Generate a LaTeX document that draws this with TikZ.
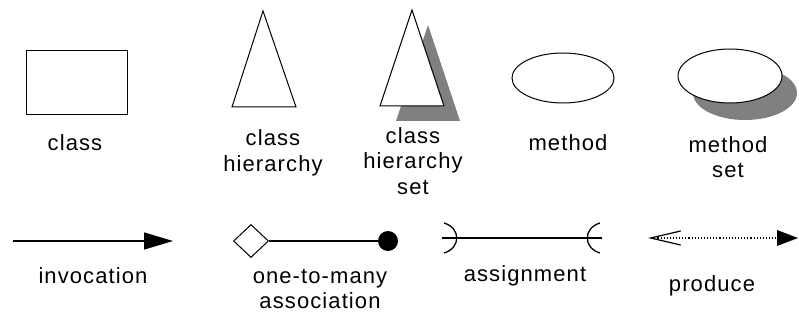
\documentclass[tikz,border=0pt]{standalone}
\usepackage{fontspec}
\setmainfont[LetterSpace=5]{Liberation Sans}
\usepackage{tikz}
\usetikzlibrary{arrows.meta,shapes.geometric}
\definecolor{ink}{HTML}{000000}
\definecolor{shade}{HTML}{808080}
\tikzset{
  lbl/.style={font=\fontsize{22}{25.5}\selectfont, align=center, inner sep=0pt},
  outline/.style={draw=ink, fill=white, line width=1pt, inner sep=0pt},
  shadow/.style={fill=shade, draw=none, inner sep=0pt},
  link/.style={draw=ink, line width=1.3pt},
  dotlink/.style={draw=ink, line width=1.1pt, dotted},
}

\begin{document}
\begin{tikzpicture}[x=1pt, y=-1pt]
\useasboundingbox (0,0) rectangle (799,320);
% top row: element kinds
\node[outline, minimum width=101pt, minimum height=64pt] (cls) at (76.5,83) {};
\node[lbl] (clsname) at (75,143) {class};

\draw[outline] (263,11) -- (296,107) -- (232,107) -- cycle;
\node[lbl] (hiername) at (273,153) {class\\hierarchy};

\fill[shadow] (428,25) -- (460,121) -- (396,121) -- cycle;
\draw[outline] (412,10) -- (444,106) -- (380,106) -- cycle;
\node[lbl] (hiersetname) at (413,161) {class\\hierarchy\\set};

\node[outline, ellipse, minimum width=102pt, minimum height=50pt] (meth) at (563,78) {};
\node[lbl] (methname) at (568,143) {method};

\node[shadow, ellipse, minimum width=104pt, minimum height=54pt] (methsetsh) at (745,93) {};
\node[outline, ellipse, minimum width=104pt, minimum height=54pt] (methset) at (730,76) {};
\node[lbl] (methsetname) at (728,157) {method\\set};

% bottom row: relation kinds
\coordinate (inv-a) at (13,241);
\coordinate (inv-b) at (173,241);
\draw[link, -{Triangle[length=29pt,width=17pt]}] (inv-a) -- (inv-b);
\node[lbl] (invname) at (93,276) {invocation};

\node[outline, diamond, minimum width=35pt, minimum height=33pt] (one) at (251,241) {};
\node[fill=ink, circle, inner sep=0pt, minimum size=20pt] (many) at (388,241) {};
\draw[link] (one.east) -- (many.west);
\node[lbl] (assocname) at (320,289) {one-to-many\\association};

\coordinate (asg-a) at (442,238);
\coordinate (asg-b) at (602,238);
\draw[link] (asg-a) -- (asg-b);
\draw[link] (444,223) .. controls (461,228) and (461,248) .. (444,253);
\draw[link] (600,223) .. controls (583,228) and (583,248) .. (600,253);
\node[lbl] (asgname) at (525,276) {assignment};

\coordinate (prod-a) at (648,238);
\coordinate (prod-b) at (798,238);
\draw[dotlink, {Straight Barb[length=30pt,width=14pt,line width=1.2pt]}-{Triangle[length=21pt,width=16pt,line width=0pt]}] (prod-a) -- (prod-b);
\node[lbl] (prodname) at (712,286) {produce};
\end{tikzpicture}
\end{document}
